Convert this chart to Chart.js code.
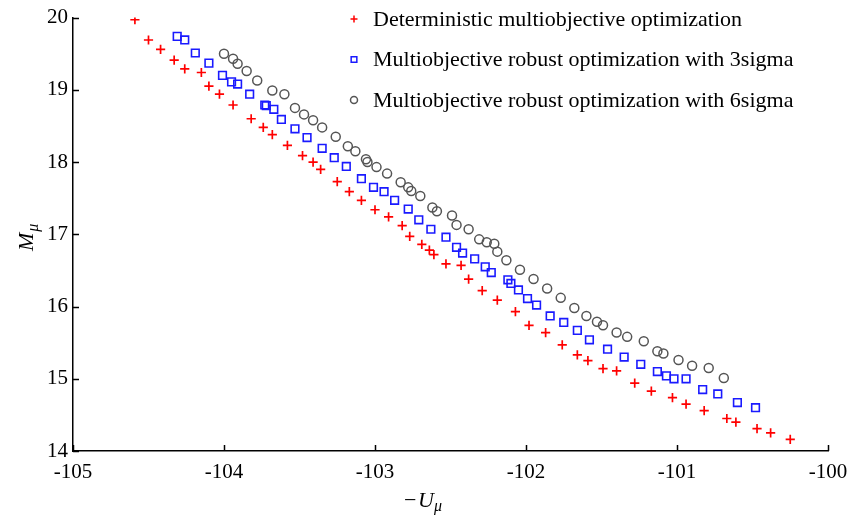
<!DOCTYPE html>
<html>

<head>
    <title>Pareto fronts</title>
    <script src="https://cdn.jsdelivr.net/npm/chart.js"></script>
    <style>
        body { margin: 0; background: #fff; }
        #wrap { width: 862px; height: 517px; }
    </style>
</head>

<body>
    <div id="wrap"><canvas id="front-chart"></canvas></div>

    <script>
        // values
        var detX = [-104.59, -104.50, -104.42, -104.33, -104.26, -104.15, -104.10, -104.03, -103.94, -103.82,
            -103.74, -103.68, -103.58, -103.48, -103.41, -103.36, -103.25, -103.17, -103.09, -103.00,
            -102.91, -102.82, -102.77, -102.69, -102.64, -102.61, -102.53, -102.43, -102.38, -102.29,
            -102.19, -102.07, -101.98, -101.87, -101.76, -101.66, -101.59, -101.49, -101.40, -101.28,
            -101.17, -101.03, -100.94, -100.82, -100.67, -100.61, -100.47, -100.38, -100.25];
        var detY = [19.97, 19.69, 19.56, 19.41, 19.29, 19.24, 19.05, 18.94, 18.79, 18.60,
            18.48, 18.38, 18.23, 18.09, 18.00, 17.90, 17.73, 17.59, 17.47, 17.34,
            17.24, 17.12, 16.97, 16.86, 16.78, 16.72, 16.59, 16.57, 16.38, 16.22,
            16.09, 15.93, 15.74, 15.64, 15.47, 15.33, 15.25, 15.14, 15.11, 14.94,
            14.83, 14.74, 14.65, 14.56, 14.45, 14.40, 14.31, 14.25, 14.16];

        var sig3X = [-104.31, -104.26, -104.19, -104.10, -104.01, -103.95, -103.91, -103.83, -103.73, -103.72,
            -103.67, -103.62, -103.53, -103.45, -103.35, -103.27, -103.19, -103.09, -103.01, -102.94,
            -102.87, -102.78, -102.71, -102.63, -102.53, -102.46, -102.42, -102.34, -102.27, -102.23,
            -102.12, -102.10, -102.05, -101.99, -101.93, -101.84, -101.75, -101.66, -101.58, -101.46,
            -101.35, -101.24, -101.13, -101.07, -101.02, -100.94, -100.83, -100.73, -100.60, -100.48];
        var sig3Y = [19.74, 19.69, 19.51, 19.37, 19.20, 19.11, 19.08, 18.94, 18.79, 18.78,
            18.73, 18.59, 18.46, 18.34, 18.19, 18.06, 17.94, 17.77, 17.65, 17.59,
            17.47, 17.35, 17.20, 17.07, 16.96, 16.82, 16.74, 16.66, 16.55, 16.47,
            16.37, 16.32, 16.23, 16.11, 16.02, 15.87, 15.78, 15.67, 15.54, 15.41,
            15.30, 15.20, 15.10, 15.04, 15.00, 15.00, 14.85, 14.79, 14.67, 14.60];

        var sig6X = [-104.00, -103.94, -103.91, -103.85, -103.78, -103.68, -103.60, -103.53, -103.47, -103.41,
            -103.35, -103.26, -103.18, -103.13, -103.06, -103.05, -102.99, -102.92, -102.83, -102.78,
            -102.76, -102.70, -102.62, -102.59, -102.49, -102.46, -102.38, -102.31, -102.26, -102.21,
            -102.19, -102.13, -102.04, -101.95, -101.86, -101.77, -101.68, -101.60, -101.53, -101.49,
            -101.40, -101.33, -101.22, -101.13, -101.09, -100.99, -100.90, -100.79, -100.69];
        var sig6Y = [19.50, 19.43, 19.36, 19.26, 19.13, 18.99, 18.94, 18.75, 18.66, 18.58,
            18.48, 18.35, 18.22, 18.15, 18.04, 18.00, 17.93, 17.84, 17.72, 17.65,
            17.60, 17.53, 17.37, 17.32, 17.26, 17.13, 17.07, 16.93, 16.89, 16.87,
            16.76, 16.64, 16.51, 16.38, 16.25, 16.12, 15.98, 15.87, 15.79, 15.74,
            15.64, 15.58, 15.52, 15.38, 15.35, 15.26, 15.18, 15.15, 15.01];

        var seriesNames = ['Deterministic multiobjective optimization',
            'Multiobjective robust optimization with 3sigma',
            'Multiobjective robust optimization with 6sigma'];

        var xTicks = [-105, -104, -103, -102, -101, -100];
        var yTicks = [14, 15, 16, 17, 18, 19, 20];

        var serif = '"Liberation Serif", "DejaVu Serif", serif';

        function pairs(xs, ys) {
            var out = [];
            for (var i = 0; i < xs.length; i++) {
                out.push({ x: xs[i], y: ys[i] });
            }
            return out;
        }

        // inward tick marks, axis titles and the legend box
        var extras = {
            id: 'extras',
            afterDraw: function (chart) {
                var ctx = chart.ctx;
                var xs = chart.scales.x, ys = chart.scales.y;
                var area = chart.chartArea;
                ctx.save();
                ctx.strokeStyle = '#000';
                ctx.lineWidth = 1.5;
                ctx.beginPath();
                xTicks.forEach(function (v) {
                    var px = Math.round(xs.getPixelForValue(v)) + 0.5;
                    ctx.moveTo(px, area.bottom);
                    ctx.lineTo(px, area.bottom - 6);
                });
                yTicks.forEach(function (v) {
                    var py = Math.round(ys.getPixelForValue(v)) + 0.5;
                    ctx.moveTo(area.left, py);
                    ctx.lineTo(area.left + 6, py);
                });
                ctx.stroke();

                // x title: -U_mu
                ctx.fillStyle = '#000';
                ctx.textBaseline = 'alphabetic';
                ctx.textAlign = 'left';
                ctx.font = '22px ' + serif;
                ctx.fillText('\u2212', 404, 507);
                ctx.font = 'italic 22px ' + serif;
                ctx.fillText('U', 418, 507);
                ctx.font = 'italic 16px ' + serif;
                ctx.fillText('\u03bc', 434, 511);

                // y title: M_mu, rotated
                ctx.save();
                ctx.translate(33, 251);
                ctx.rotate(-Math.PI / 2);
                ctx.font = 'italic 22px ' + serif;
                ctx.fillText('M', 0, 0);
                var mw = ctx.measureText('M').width;
                ctx.font = 'italic 16px ' + serif;
                ctx.fillText('\u03bc', mw + 1, 5);
                ctx.restore();

                // legend
                var rows = [19, 59.5, 100];
                chart.data.datasets.forEach(function (ds, i) {
                    var y = rows[i];
                    ctx.strokeStyle = ds.borderColor;
                    ctx.fillStyle = 'rgba(0,0,0,0)';
                    Chart.helpers.drawPoint(ctx, {
                        pointStyle: ds.pointStyle,
                        radius: ds.pointStyle === 'rect' ? 4 : 3.5,
                        borderWidth: 1.5,
                        rotation: 0
                    }, 354, y);
                    ctx.fillStyle = '#000';
                    ctx.font = '22px ' + serif;
                    ctx.textBaseline = 'middle';
                    ctx.fillText(ds.label, 373, y + 1);
                });
                ctx.restore();
            }
        };

        var chart = new Chart(document.getElementById('front-chart'), {
            type: 'scatter',
            data: {
                datasets: [{
                    label: seriesNames[0],
                    data: pairs(detX, detY),
                    pointStyle: 'cross',
                    radius: 4.6,
                    borderColor: '#ff0000',
                    borderWidth: 1.7,
                    backgroundColor: 'rgba(0,0,0,0)'
                }, {
                    label: seriesNames[1],
                    data: pairs(sig3X, sig3Y),
                    pointStyle: 'rect',
                    radius: 5.4,
                    borderColor: '#1a1aff',
                    borderWidth: 1.6,
                    backgroundColor: 'rgba(0,0,0,0)'
                }, {
                    label: seriesNames[2],
                    data: pairs(sig6X, sig6Y),
                    pointStyle: 'circle',
                    radius: 4.5,
                    borderColor: '#555555',
                    borderWidth: 1.5,
                    backgroundColor: 'rgba(0,0,0,0)'
                }]
            },
            options: {
                responsive: true,
                maintainAspectRatio: false,
                animation: false,
                layout: { padding: { left: 0, right: 34, top: 15, bottom: 0 } },
                plugins: {
                    legend: { display: false },
                    tooltip: { enabled: false }
                },
                scales: {
                    x: {
                        type: 'linear',
                        min: -105,
                        max: -100,
                        afterBuildTicks: function (scale) {
                            scale.ticks = xTicks.map(function (v) { return { value: v }; });
                        },
                        afterFit: function (scale) { scale.height = 66; },
                        grid: { display: false, drawTicks: false },
                        border: { display: true, color: '#000', width: 1.5 },
                        ticks: {
                            color: '#000',
                            padding: 9,
                            font: { family: serif, size: 21 },
                            maxRotation: 0,
                            callback: function (v) { return String(v); }
                        }
                    },
                    y: {
                        type: 'linear',
                        min: 14,
                        max: 20,
                        afterBuildTicks: function (scale) {
                            scale.ticks = yTicks.map(function (v) { return { value: v }; });
                        },
                        afterFit: function (scale) { scale.width = 73; },
                        grid: { display: false, drawTicks: false },
                        border: { display: true, color: '#000', width: 1.5 },
                        ticks: {
                            color: '#000',
                            padding: 5,
                            font: { family: serif, size: 21 },
                            callback: function (v) { return String(v); }
                        }
                    }
                }
            },
            plugins: [extras]
        });
    </script>
</body>

</html>
